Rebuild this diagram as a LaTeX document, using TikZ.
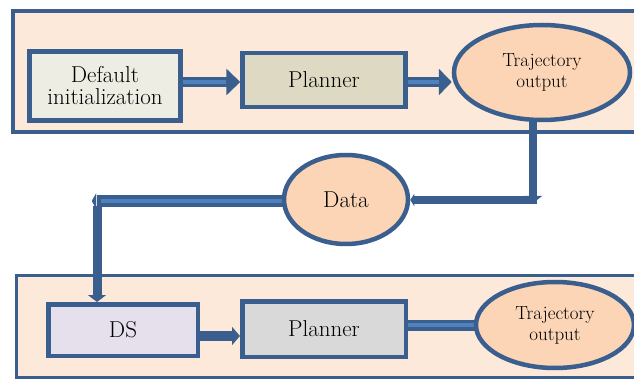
\documentclass[tikz,border=0pt]{standalone}
\usetikzlibrary{arrows.meta,shapes.geometric}
\definecolor{bdr}{HTML}{3A5F8F}
\definecolor{stripe}{HTML}{4F81BD}
\definecolor{panelfill}{HTML}{FDE9DA}
\definecolor{initfill}{HTML}{EEEDE4}
\definecolor{planA}{HTML}{DDD9C3}
\definecolor{ellfill}{HTML}{FBD5B5}
\definecolor{dsfill}{HTML}{E5E0EC}
\definecolor{planB}{HTML}{D9D9D9}
\pgfdeclarelayer{back}
\pgfdeclarelayer{links}
\pgfsetlayers{back,links,main}
\begin{document}
\begin{tikzpicture}[x=1pt,y=-1pt,
  panel/.style={draw=bdr,fill=panelfill,rectangle,inner sep=0pt},
  box/.style={draw=bdr,line width=4.5pt,rectangle,inner sep=0pt,align=center,
    font=\fontsize{23}{22}\selectfont},
  oval/.style={draw=bdr,line width=4.5pt,ellipse,inner sep=0pt,fill=ellfill,align=center},
  bigtxt/.style={font=\fontsize{23}{22}\selectfont},
  smalltxt/.style={font=\fontsize{19}{21}\selectfont},
  solidlink/.style={draw=bdr,line width=#1},
  striped/.style={draw=stripe,line width=#1},
]
\useasboundingbox (0,0) rectangle (634,379);

\begin{pgfonlayer}{back}
\fill[white] (0,0) rectangle (634,379);
% panels
\node[panel,line width=4pt,minimum width=627pt,minimum height=121pt] (toppanel) at (326.5,71.5) {};
\node[panel,line width=3pt,minimum width=624pt,minimum height=102pt] (botpanel) at (328,326) {};
\end{pgfonlayer}

% top row
\node[box,fill=initfill,minimum width=151pt,minimum height=69pt] (init) at (105,86) {Default\\initialization};
\node[box,fill=planA,minimum width=163pt,minimum height=54pt] (planA) at (324,80) {Planner};
\node[oval,smalltxt,minimum width=176pt,minimum height=95pt] (trajA) at (542,72.5) {Trajectory\\output};

% middle
\node[oval,bigtxt,minimum width=124pt,minimum height=89pt] (data) at (346,199.5) {Data};

% bottom row
\node[box,fill=dsfill,minimum width=149.5pt,minimum height=51.5pt] (ds) at (123,330) {DS};
\node[box,fill=planB,minimum width=163.5pt,minimum height=55.5pt] (planB) at (324,329) {Planner};
\node[oval,smalltxt,minimum width=158pt,minimum height=86pt] (trajB) at (555,325) {Trajectory\\output};

\coordinate (c1) at (533,200);
\coordinate (c2) at (97,201);

\begin{pgfonlayer}{links}
% Default -> Planner (block arrow)
\draw[solidlink=10pt,-{Triangle[length=14pt,width=26pt]}] (planA.west -| init.east) ++(0,2) coordinate (a1s) -- (planA.west |- a1s);
\draw[striped=4pt,shorten >=14pt] (a1s) -- (planA.west |- a1s);
% Planner -> Trajectory
\draw[solidlink=10pt,-{Triangle[length=13pt,width=26pt]}] ([yshift=-2pt]planA.east) coordinate (a2s) -- (trajA.west |- a2s);
\draw[striped=4pt,shorten >=13pt] (a2s) -- (trajA.west |- a2s);
% Trajectory down to corner
\draw[solidlink=8pt,-{Triangle[length=7pt,width=18pt]}] (trajA.center -| c1) -- ([yshift=-3pt]c1);
% corner -> Data
\draw[solidlink=8pt,-{Triangle[length=4pt,width=12pt]}] ([xshift=4pt]c1) -- (data.east |- c1);
% Data -> left corner
\draw[solidlink=12pt] (data.center |- c2) -- (c2);
\draw[striped=4pt] (data.center |- c2) -- ([xshift=4pt]c2);
\draw[draw=bdr,fill=bdr] ([xshift=-1pt,yshift=7pt]c2) -- ([xshift=-5pt]c2) -- ([xshift=-1pt,yshift=-7pt]c2) -- cycle;
% left corner -> DS
\draw[solidlink=9pt,-{Triangle[length=7pt,width=18pt]}] ([yshift=-5pt]c2) -- (ds.north -| c2);
% DS -> Planner
\draw[solidlink=10pt,-{Triangle[length=8pt,width=18pt]}] ([yshift=-6pt]ds.east) coordinate (b1s) -- (planB.west |- b1s);
% Planner -> Trajectory
\draw[solidlink=11pt] (trajB.west -| planB.east) -- (trajB.center);
\draw[striped=4pt] (trajB.west -| planB.east) -- (trajB.center);
\end{pgfonlayer}
\end{tikzpicture}
\end{document}
